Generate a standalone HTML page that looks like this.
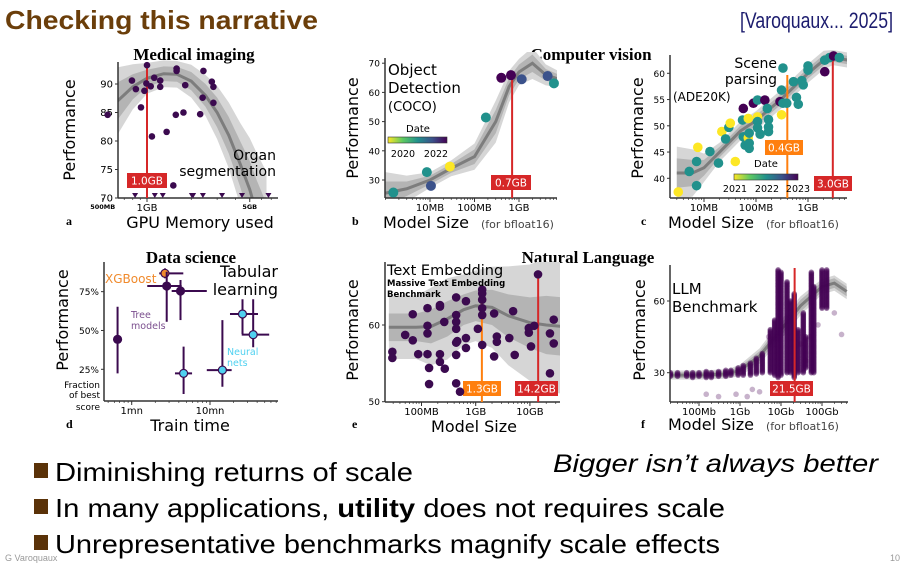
<!DOCTYPE html>
<html><head><meta charset="utf-8"><style>
html,body{margin:0;padding:0;background:#fff;}
svg{display:block;}
text{font-family:"DejaVu Sans",sans-serif;}
.slide{font-family:"Liberation Sans",sans-serif;}
.serif{font-family:"Liberation Serif",serif;font-weight:bold;}
</style></head><body>
<svg id="s" width="907" height="567" viewBox="0 0 907 567" xmlns="http://www.w3.org/2000/svg">
<defs>
<linearGradient id="vir" x1="0" x2="1" y1="0" y2="0"><stop offset="0" stop-color="#fde725"/><stop offset="0.25" stop-color="#5ec962"/><stop offset="0.5" stop-color="#21918c"/><stop offset="0.75" stop-color="#3b528b"/><stop offset="1" stop-color="#440154"/></linearGradient>
<clipPath id="ca"><rect x="118" y="58" width="160" height="140"/></clipPath>
<clipPath id="cb"><rect x="385" y="52" width="172" height="146"/></clipPath>
<clipPath id="cc"><rect x="670" y="50" width="177" height="148"/></clipPath>
<clipPath id="ce"><rect x="385" y="262" width="175" height="140"/></clipPath>
<clipPath id="cf"><rect x="670" y="262" width="178" height="140"/></clipPath>
</defs>
<text class="slide" x="5" y="29" font-size="26" font-weight="bold" fill="#6b3e0a" textLength="313" lengthAdjust="spacingAndGlyphs">Checking this narrative</text>
<text class="slide" x="893" y="28" font-size="22" fill="#1c1c6e" text-anchor="end" textLength="153" lengthAdjust="spacingAndGlyphs">[Varoquaux... 2025]</text>
<text class="serif" x="194" y="60" font-size="17" text-anchor="middle">Medical imaging</text>
<text class="serif" x="591" y="60" font-size="17" text-anchor="middle">Computer vision</text>
<text class="serif" x="191" y="263" font-size="17" text-anchor="middle">Data science</text>
<text class="serif" x="588" y="263" font-size="17" text-anchor="middle">Natural Language</text>
<g id="plots"></g>
<g>
<rect x="34" y="463" width="14" height="15" fill="#5a3208"/>
<text class="slide" x="55" y="481" font-size="26" textLength="358" lengthAdjust="spacingAndGlyphs">Diminishing returns of scale</text>
<rect x="34" y="499" width="14" height="15" fill="#5a3208"/>
<text class="slide" x="55" y="517" font-size="26" textLength="670" lengthAdjust="spacingAndGlyphs">In many applications, <tspan font-weight="bold">utility</tspan> does not requires scale</text>
<rect x="34" y="535" width="14" height="15" fill="#5a3208"/>
<text class="slide" x="55" y="553" font-size="26" textLength="665" lengthAdjust="spacingAndGlyphs">Unrepresentative benchmarks magnify scale effects</text>
</g>
<text class="slide" x="553" y="472" font-size="25" font-style="italic" textLength="325" lengthAdjust="spacingAndGlyphs">Bigger isn’t always better</text>
<text class="slide" x="5" y="561" font-size="9" fill="#999">G Varoquaux</text>
<text class="slide" x="900" y="561" font-size="9" fill="#999" text-anchor="end">10</text>
</svg>
<script>
// ---- Panel a data (GB, perf) ----
const aX=[0.54,0.79,0.84,0.91,0.96,0.99,1.0,1.06,1.08,1.12,1.23,1.23,1.36,1.51,1.57,1.59,1.59,1.77,1.82,2.3,2.39,2.42,2.76,2.83,2.83];
const aY=[84.6,90.6,89.1,85.9,88.8,90.1,93.3,89.6,80.8,91.1,90.6,89.5,81.6,72.2,84.6,92.7,92.3,85.0,89.8,84.7,87.6,92.3,90.4,89.5,86.7];
const aFailX=[0.83,1.13,1.28,2.02,2.06,2.4,3.24,4.43,6.7];
const aFitX=[0.4,0.6,0.8,1.0,1.3,1.6,2.0,2.5,3.0,3.6,4.3,5.0,5.6,6.5];
const aFitM=[80.5,86.5,89.5,91,91.8,91.7,90.5,88,85,81,76,71.5,67,62];
const aFitH=[5,3.5,2.2,1.5,1.3,1.3,1.6,2,2.6,3.2,4,5,6,7];
// ---- Panel b data (MB, perf, date-color) ----
const bX=[1.5,8.5,10.5,28,180,400,660,1150,4400,6100];
const bY=[25.7,32.7,28,34.6,51.4,65.0,65.9,64.5,65.6,63.1];
const bC=['#21918c','#21918c','#3b528b','#fde725','#21918c','#440154','#440154','#3b528b','#3b528b','#21918c'];
const bFitX=[1,3,10,30,100,300,600,1000,2000,4000,8000];
const bFitM=[25.5,27,30,34,38,50,62,67,70,66,64.5];
const bFitH=[4,2.5,1.5,1.5,2.5,4,3,2.5,3,2,1.5];
// ---- Panel c data ----
const cX=[3.2,5.2,7.2,7.2,7.6,13,19,22,26,30,32,40,57,55,57,62,74,71,71,74,74,89,107,107,107,107,120,148,165,174,174,174,310,330,290,310,330,390,525,600,650,760,810,1000,1000,2100,2100,2600,3100,4000];
const cY=[37.4,41.3,38.6,43.2,45.9,45.1,42.9,48.9,47.5,49.7,50.5,43.2,53.3,51.1,47.9,46.3,45.7,47.7,51.4,48.6,46.7,54.3,54.9,51.7,50.8,49.6,48.4,54.9,53.3,51.2,49.8,48.9,56.8,61.0,54.6,52.1,54.3,54.3,58.4,55.4,54.1,58.6,57.8,61.4,60.6,62.5,60.3,63.0,63.3,63.0];
const cC="YTTTYTTYTTYYPTTTTYYTTPTYTTTPTTTTTTPYTTTTTTTTTTPTPT";
const cFitX=[3,6,10,20,50,100,300,1000,2000,3000,6000];
const cFitM=[41,41,42,45,49,51,55,60,62.5,63,62.5];
const cFitH=[2.8,2.5,1.5,1,1,1,1,1,1,0.8,0.8];
// ---- Panel d data (minutes, perf%) ----
const dX=[0.66,2.66,2.8,4.2,4.6,14.4,26,35.6];
const dY=[44.3,86.8,78.6,75.4,22.4,24.5,60.6,47.3];
const dXlo=[0.66,2.25,1.58,3.24,3.57,9.1,18,25.4];
const dXhi=[0.66,4.56,4.35,9.1,5.9,18.9,41,57];
const dYlo=[22.4,83.6,55.6,56.7,9.1,13.8,47.7,39.2];
const dYhi=[65.3,90.0,87.8,82.5,39.6,56.7,70.1,70.1];
const dKind=['tree','xgb','tree','tree','nn','nn','nn','nn'];
// ---- Panel e data (MB, perf) ----
const eX=[29,29,50,69,69,87,129,129,129,129,138,138,219,219,219,219,263,269,436,436,436,436,436,436,436,457,513,661,661,661,1096,1318,1318,1318,1318,1318,1318,2188,2188,2455,2455,4169,4898,5248,9550,9550,10470,12020,14125,23440,23440,27540,27540];
const eY=[56.5,55.7,58.7,61.4,58.0,56.2,62.2,59.9,58.9,56.2,54.4,52.3,62.6,62.4,56.2,55.2,60.4,54.3,63.6,61.3,60.4,59.5,57.7,56.1,52.4,57.9,51.3,63.1,58.3,57.0,59.5,64.6,64.1,63.3,62.2,61.3,57.4,61.5,55.9,58.5,57.8,58.3,61.8,56.1,59.6,59.0,57.2,59.9,66.6,53.7,58.9,60.7,57.6];
const eFitX=[25,80,150,300,600,1000,2000,4000,10000,20000,40000];
const eFitM=[59.7,59.7,59.8,60.8,62,62.5,62.3,61.2,60.3,60,59.8];
const eFitH=[1.8,1.8,2.2,2.3,2,2,2.3,2.8,3.3,3.8,3.8];
// ---- Panel f data (GB columns: size, low, high) ----
const fColX=[0.02,0.03,0.05,0.07,0.1,0.15,0.2,0.3,0.45,0.6,0.9,1.2,1.8,2.5,3.5,5.5,7,8.5,10,14,17,21,26,35,40,55,63,100,130];
const fColLo=[28.5,28.5,28.5,28,28.5,28,28,28.5,28.5,29,29,29,29,29.5,30,30,29,28,29,30,30,28,30,30,32,30,30,57,57];
const fColHi=[30,30,30,30,30,30.5,30,30.5,31,31,32,33,34,36,38,48,52,73,72,68,60,63,48,55,45,72,66,73,73];
const fScatX=[0.15,0.3,3,5,12,30,40,50,80,200,300,0.8,1.5,2];
const fScatY=[21,20,22,45,25,42,35,45,50,55,46,21,20,23];
const fFitX=[0.01,0.1,0.5,1,3,10,30,100,200,400];
const fFitM=[29,29,29.5,31,37,48,58,66,67.5,64];
const fFitH=[1.2,1.2,1.2,1.5,2,2.5,2.5,2,2,2];

const NS='http://www.w3.org/2000/svg';
const root=document.getElementById('plots');
function mk(tag,attrs,parent,txt){const e=document.createElementNS(NS,tag);for(const k in attrs)e.setAttribute(k,attrs[k]);if(txt!==undefined)e.textContent=txt;(parent||root).appendChild(e);return e;}
const L=Math.log10;
const sc={
 a:{x:v=>147+L(v)*147,y:v=>198-(v-70)*5.7,x0:118,x1:278,y0:62,y1:198},
 b:{x:v=>430+(L(v)-1)*44.5,y:v=>180-(v-30)*2.92,x0:385,x1:557,y0:58,y1:198},
 c:{x:v=>808+(L(v)-3)*52,y:v=>178.3-(v-40)*5.25,x0:670,x1:847,y0:55,y1:198},
 d:{x:v=>131.7+L(v)*78.3,y:v=>369.3-(v-25)*1.553,x0:104,x1:278,y0:262,y1:401},
 e:{x:v=>475.7+(L(v)-3)*54.2,y:v=>401.7-(v-50)*7.67,x0:385,x1:560,y0:262,y1:402},
 f:{x:v=>740+L(v)*41,y:v=>372.7-(v-30)*2.39,x0:670,x1:848,y0:265,y1:402}
};
function band(s,X,M,H,k,fill,g){let up=X.map((x,i)=>s.x(x)+','+s.y(M[i]+H[i]*k));let dn=X.map((x,i)=>s.x(x)+','+s.y(M[i]-H[i]*k)).reverse();const p=mk('polygon',{points:up.concat(dn).join(' '),fill:fill},g);}
function fit(s,X,M,H,clip,wide){const g=mk('g',{'clip-path':'url(#'+clip+')'});band(s,X,M,H,wide||1.7,'#d6d6d6',g);band(s,X,M,H,1,'#b4b4b4',g);const l=mk('polyline',{points:X.map((x,i)=>s.x(x)+','+s.y(M[i])).join(' '),fill:'none',stroke:'#7d7d7d','stroke-width':3},g);}
function axes(s,yt,xt,xminor,fs){const g=mk('g',{});
 mk('line',{x1:s.x0,y1:s.y0,x2:s.x0,y2:s.y1,stroke:'#333','stroke-width':1.5},g);mk('line',{x1:s.x0,y1:s.y1,x2:s.x1,y2:s.y1,stroke:'#333','stroke-width':1.5},g);
 yt.forEach(t=>{const y=s.y(t[0]);mk('line',{x1:s.x0-3,y1:y,x2:s.x0,y2:y,stroke:'#333'},g);const tx=mk('text',{x:s.x0-5,y:y+3.5,'font-size':fs||10,'text-anchor':'end'},g,t[1]);});
 xminor.forEach(v=>{const x=s.x(v);if(x>s.x0&&x<s.x1)mk('line',{x1:x,y1:s.y1,x2:x,y2:s.y1+2,stroke:'#333','stroke-width':0.7},g);});
 xt.forEach(t=>{const x=s.x(t[0]);mk('line',{x1:x,y1:s.y1,x2:x,y2:s.y1+4,stroke:'#333'},g);const tx=mk('text',{x:x,y:s.y1+(t[3]||13),'font-size':t[2]||10,'text-anchor':'middle','font-weight':t[2]&&t[2]<8?'bold':'normal'},g,t[1]);});}
function minors(lo,hi){const r=[];for(let d=lo;d<hi;d++)for(let m=1;m<10;m++)r.push(m*Math.pow(10,d));return r;}
function vline(s,v,ytop,color,lx,ly,lw,label){const x=s.x(v);const l=mk('line',{x1:x,y1:ytop,x2:x,y2:s.y1,stroke:color,'stroke-width':2});
 const r=mk('rect',{x:lx,y:ly,width:lw,height:15,fill:color});mk('text',{x:lx+lw/2,y:ly+11.5,'font-size':10.5,'text-anchor':'middle',fill:'#fff'},root,label);}
function ytitle(x,y,t){const e=mk('text',{x:0,y:0,'font-size':16,'text-anchor':'middle',transform:'translate('+x+','+y+') rotate(-90)'},root,t);}
function txt(x,y,s,t,attrs,name){const e=mk('text',Object.assign({x:x,y:y,'font-size':s},attrs||{}),root,t);return e;}
function dot(x,y,r,fill,op){const c=mk('circle',{cx:x,cy:y,r:r,fill:fill,'fill-opacity':op||1});}

// Panel a
let s=sc.a;
fit(s,aFitX,aFitM,aFitH,'ca',1.8);
axes(s,[[70,'70'],[75,'75'],[80,'80'],[85,'85'],[90,'90']],[[0.5,'500MB',6.5,11],[1,'1GB',10,13],[5,'5GB',6.5,11]],minors(-1,1));
vline(s,1.0,63,'#d62728',127,173,40,'1.0GB');
aX.forEach((x,i)=>dot(s.x(x),s.y(aY[i]),3.3,'#3b0a4f'));
aFailX.forEach(x=>{const X=s.x(x);const p=mk('polygon',{points:(X-3)+',193 '+(X+3)+',193 '+X+',198',fill:'#3b0a4f'});});
txt(276,160,14,'Organ',{'text-anchor':'end'});txt(276,176,14,'segmentation',{'text-anchor':'end'});
ytitle(75,130,'Performance');
txt(200,228,16,'GPU Memory used',{'text-anchor':'middle'},'x-axis-title');
txt(66,225,12,'a',{class:'serif'},'panel-label');

// Panel b
s=sc.b;
fit(s,bFitX,bFitM,bFitH,'cb',1.8);
axes(s,[[30,'30'],[40,'40'],[50,'50'],[60,'60'],[70,'70']],[[10,'10MB'],[100,'100MB'],[1000,'1GB']],minors(0,4),9);
vline(s,700,75,'#d62728',491,175,40,'0.7GB');
bX.forEach((x,i)=>dot(s.x(x),s.y(bY[i]),5,bC[i]));
txt(388,75,15,'Object');txt(388,93,15,'Detection');txt(388,111,13,'(COCO)');
txt(418,132,10,'Date',{'text-anchor':'middle'});
{const r=mk('rect',{x:388,y:137,width:59,height:6,fill:'url(#vir)',stroke:'#333','stroke-width':0.6});}
txt(403,157,9.5,'2020',{'text-anchor':'middle'});txt(436,157,9.5,'2022',{'text-anchor':'middle'});
ytitle(358,128,'Performance');
txt(383,228,16,'Model Size');txt(481,228,11,'(for bfloat16)',{fill:'#444'});
txt(352,225,12,'b',{class:'serif'},'panel-label');

// Panel c
s=sc.c;
fit(s,cFitX,cFitM,cFitH,'cc',1.8);
axes(s,[[40,'40'],[45,'45'],[50,'50'],[55,'55'],[60,'60']],[[10,'10MB'],[100,'100MB'],[1000,'1GB']],minors(0,4),9);
vline(s,400,75,'#ff7f0e',765,140,38,'0.4GB');
vline(s,3000,58,'#d62728',814,176,38,'3.0GB');
const cmap={Y:'#fde725',T:'#21918c',P:'#440154'};
cX.forEach((x,i)=>dot(s.x(x),s.y(cY[i]),4.8,cmap[cC[i]]));
txt(777,68,14,'Scene',{'text-anchor':'end'});txt(777,84,14,'parsing',{'text-anchor':'end'});txt(673,101,12,'(ADE20K)');
txt(766,167,10,'Date',{'text-anchor':'middle'});
{const r=mk('rect',{x:734,y:174,width:64,height:6,fill:'url(#vir)',stroke:'#333','stroke-width':0.6});}
txt(735,192,9.5,'2021',{'text-anchor':'middle'});txt(767,192,9.5,'2022',{'text-anchor':'middle'});txt(798,192,9.5,'2023',{'text-anchor':'middle'});
ytitle(643,128,'Performance');
txt(668,228,16,'Model Size');txt(766,228,11,'(for bfloat16)',{fill:'#444'});
txt(641,225,12,'c',{class:'serif'},'panel-label');

// Panel d
s=sc.d;
axes(s,[[25,'25%'],[50,'50%'],[75,'75%']],[[1,'1mn'],[10,'10mn']],minors(-1,2),9);
dX.forEach((x,i)=>{const col='#3b0a4f';const g=mk('g',{});
 mk('line',{x1:s.x(dXlo[i]),y1:s.y(dY[i]),x2:s.x(dXhi[i]),y2:s.y(dY[i]),stroke:col,'stroke-width':2},g);
 mk('line',{x1:s.x(x),y1:s.y(dYlo[i]),x2:s.x(x),y2:s.y(dYhi[i]),stroke:col,'stroke-width':2},g);
 const f=dKind[i]==='xgb'?'#f08a2c':dKind[i]==='nn'?'#4fd1f0':col;
 const c=mk('circle',{cx:s.x(x),cy:s.y(dY[i]),r:4,fill:f,stroke:col,'stroke-width':1.2});});
txt(105,283,12,'XGBoost',{fill:'#f08a2c'});
txt(278,277,16,'Tabular',{'text-anchor':'end'});txt(278,295,16,'learning',{'text-anchor':'end'});
txt(131,318,9.5,'Tree',{fill:'#7b4f8e'});txt(131,329,9.5,'models',{fill:'#7b4f8e'});
txt(227,355,9.5,'Neural',{fill:'#4fd1f0'});txt(227,366,9.5,'nets',{fill:'#4fd1f0'});
txt(100,388,9,'Fraction',{'text-anchor':'end'});txt(100,398,9,'of best',{'text-anchor':'end'});txt(100,410,9,'score',{'text-anchor':'end'});
ytitle(68,320,'Performance');
txt(190,431,16,'Train time',{'text-anchor':'middle'},'x-axis-title');
txt(66,428,12,'d',{class:'serif'},'panel-label');

// Panel e
s=sc.e;
fit(s,eFitX,eFitM,eFitH,'ce',2.3);
axes(s,[[50,'50'],[60,'60']],[[100,'100MB'],[1000,'1GB'],[10000,'10GB']],minors(1,5),9);
vline(s,1300,298,'#ff7f0e',463,381,38,'1.3GB');
vline(s,14200,272,'#d62728',515,381,43,'14.2GB');
eX.forEach((x,i)=>dot(s.x(x),s.y(eY[i]),4.3,'#3b0a4f'));
txt(387,275,14.5,'Text Embedding');txt(387,286,8.5,'Massive Text Embedding',{'font-weight':'bold'});txt(387,297,8.5,'Benchmark',{'font-weight':'bold'});
ytitle(358,330,'Performance');
txt(474,432,16,'Model Size',{'text-anchor':'middle'},'x-axis-title');
txt(352,428,12,'e',{class:'serif'},'panel-label');

// Panel f
s=sc.f;
fit(s,fFitX,fFitM,fFitH,'cf',1.6);
axes(s,[[30,'30'],[60,'60']],[[0.1,'100Mb'],[1,'1Gb'],[10,'10Gb'],[100,'100Gb']],minors(-2,3),9);
{const g=mk('g',{'clip-path':'url(#cf)'});
 fColX.forEach((x,i)=>{for(let v=fColLo[i];v<=fColHi[i];v+=0.5){mk('circle',{cx:s.x(x),cy:s.y(v),r:2.8,fill:'#440154','fill-opacity':0.55},g);}});
 fScatX.forEach((x,i)=>{mk('circle',{cx:s.x(x),cy:s.y(fScatY[i]),r:2.8,fill:'#440154','fill-opacity':0.3},g);});}
vline(s,21.5,268,'#d62728',770,381,43,'21.5GB');
txt(672,294,15,'LLM');txt(672,312,15,'Benchmark');
ytitle(645,330,'Performance');
txt(668,430,16,'Model Size');txt(766,430,11,'(for bfloat16)',{fill:'#444'});
txt(641,428,12,'f',{class:'serif'},'panel-label');
</script>
</body></html>
